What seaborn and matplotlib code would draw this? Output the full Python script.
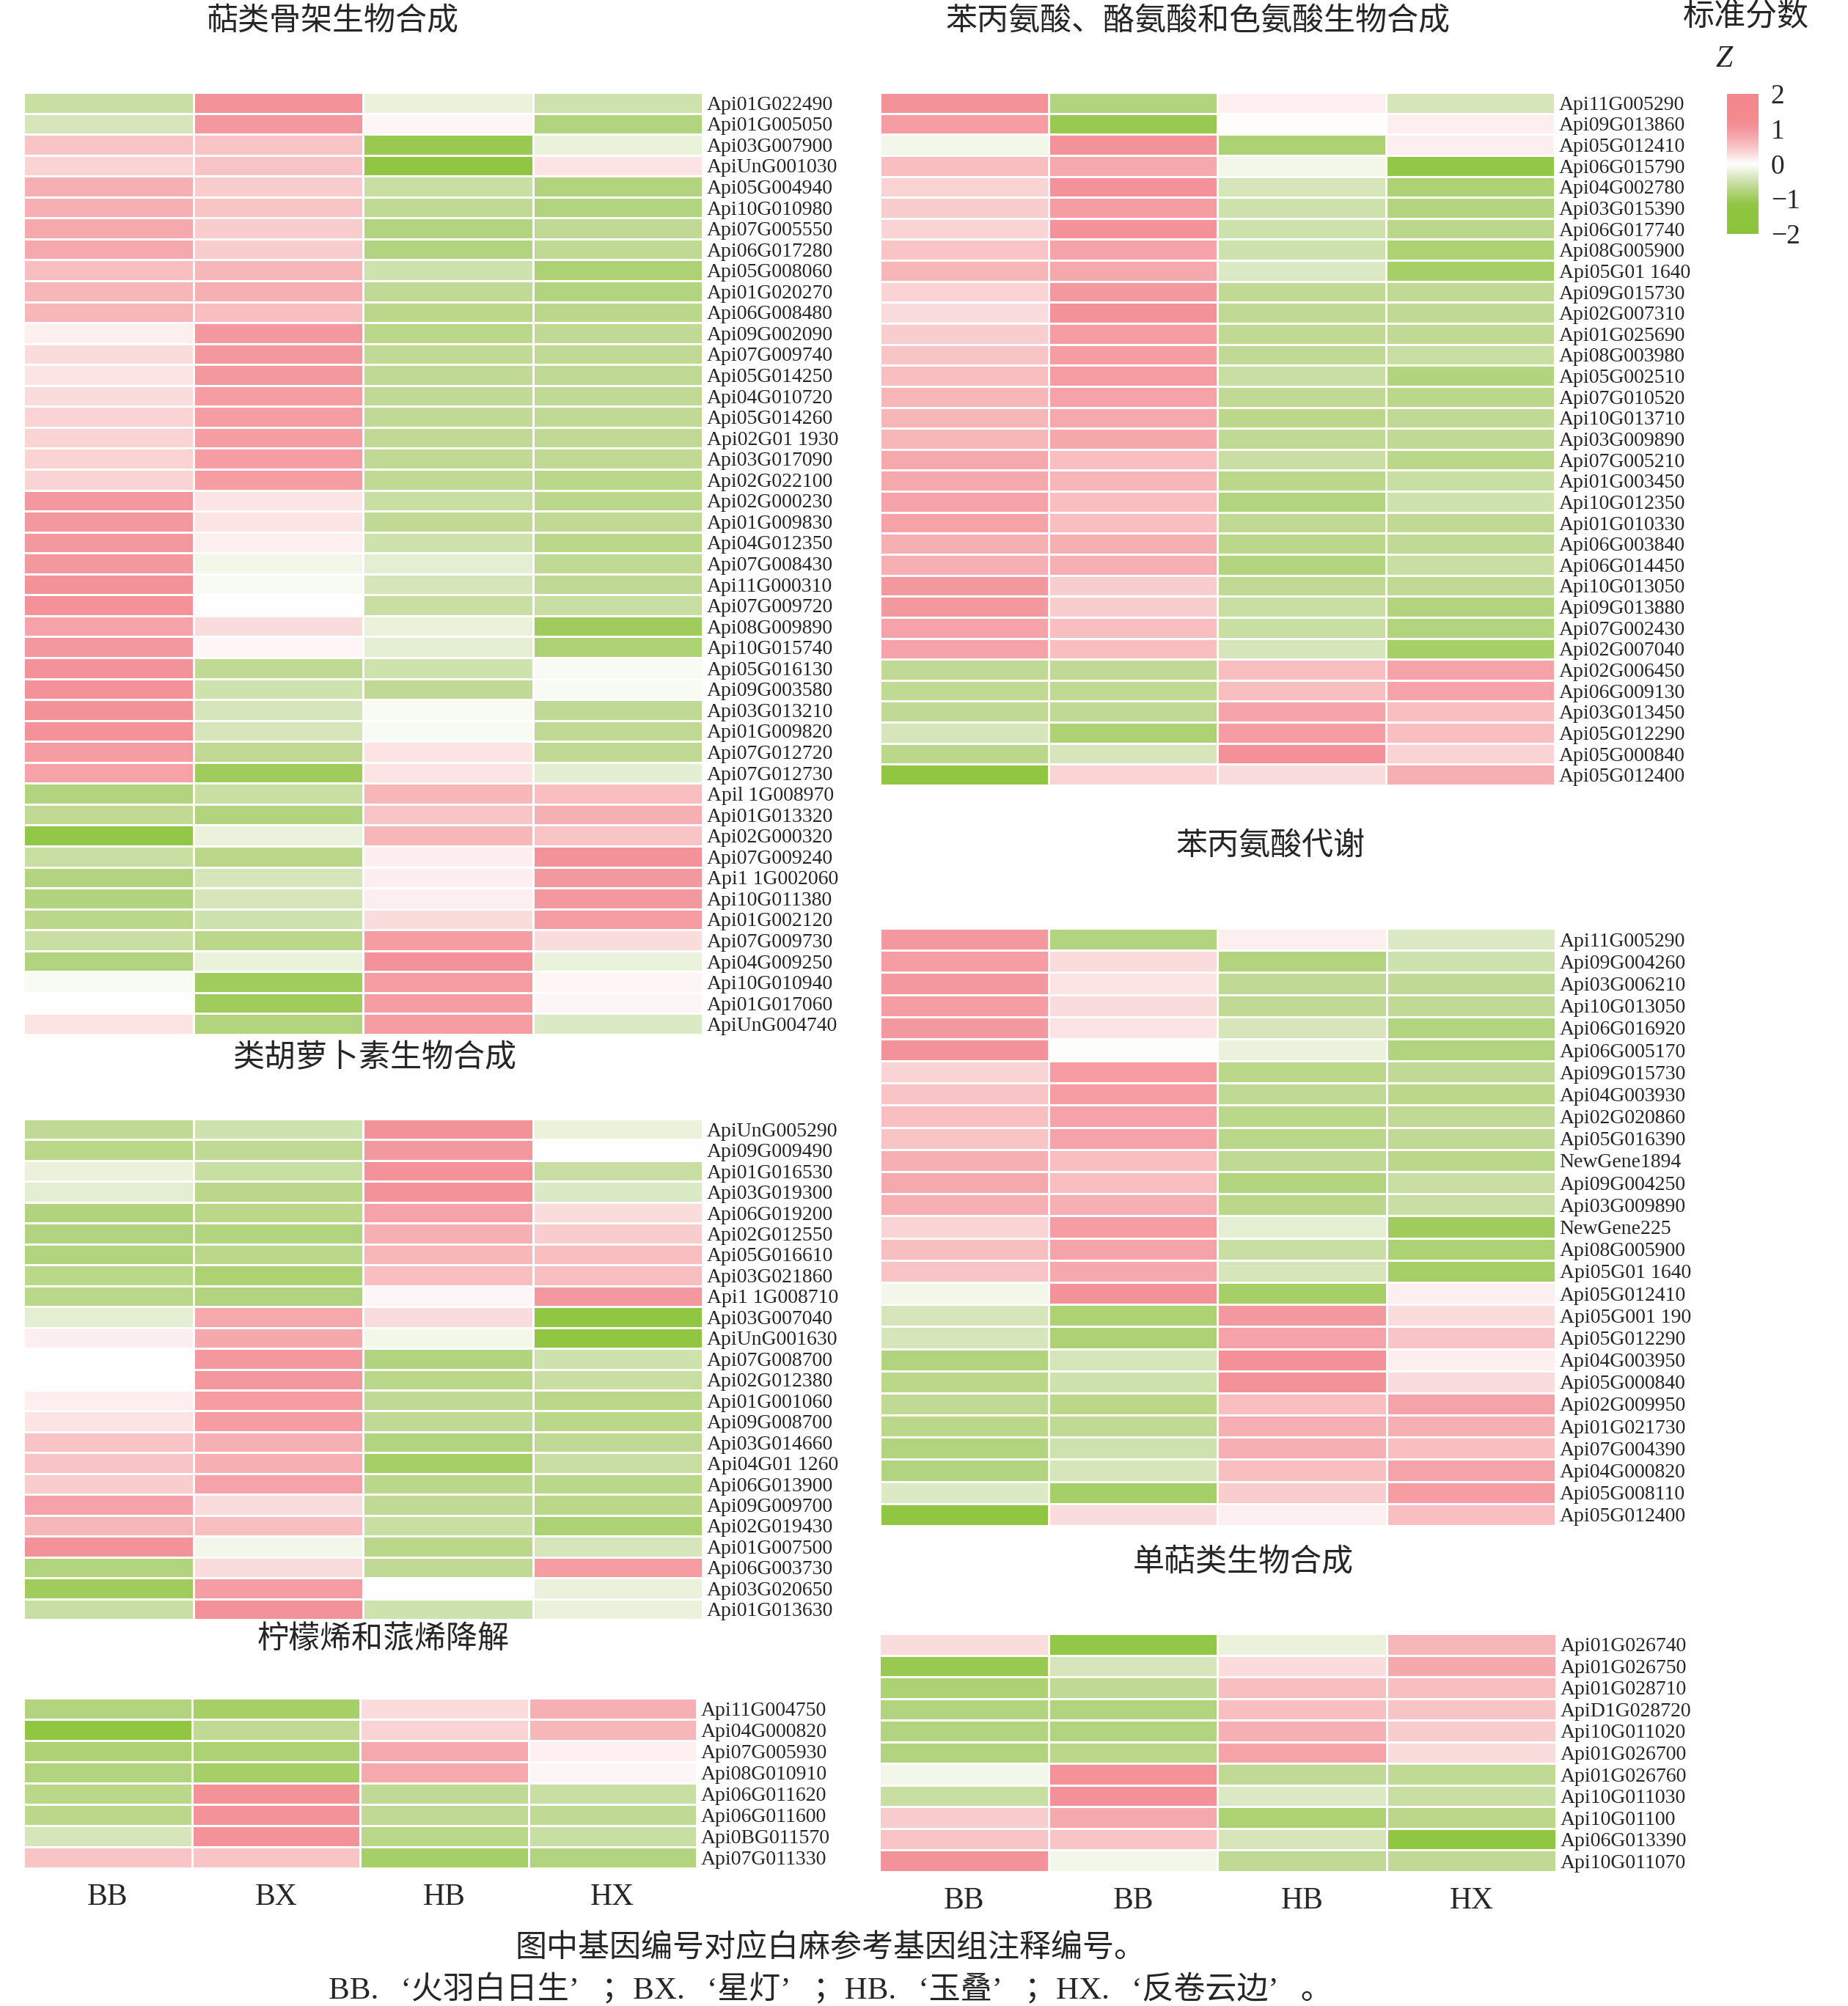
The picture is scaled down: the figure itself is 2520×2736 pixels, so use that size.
import numpy as np
import pandas as pd
import matplotlib
matplotlib.use('Agg')
import matplotlib.pyplot as plt
import seaborn as sns
from matplotlib.colors import LinearSegmentedColormap

# 样本名称（右侧图原图中为 BB, BB, HB, HX）
samples_left = ['BB', 'BX', 'HB', 'HX']
samples_right = ['BB', 'BB', 'HB', 'HX']

# 1. 萜类骨架生物合成
terp_genes = ['Api01G022490', 'Api01G005050', 'Api03G007900', 'ApiUnG001030', 'Api05G004940',
              'Api10G010980', 'Api07G005550', 'Api06G017280', 'Api05G008060', 'Api01G020270',
              'Api06G008480', 'Api09G002090', 'Api07G009740', 'Api05G014250', 'Api04G010720',
              'Api05G014260', 'Api02G01 1930', 'Api03G017090', 'Api02G022100', 'Api02G000230',
              'Api01G009830', 'Api04G012350', 'Api07G008430', 'Api11G000310', 'Api07G009720',
              'Api08G009890', 'Api10G015740', 'Api05G016130', 'Api09G003580', 'Api03G013210',
              'Api01G009820', 'Api07G012720', 'Api07G012730', 'Apil 1G008970', 'Api01G013320',
              'Api02G000320', 'Api07G009240', 'Api1 1G002060', 'Api10G011380', 'Api01G002120',
              'Api07G009730', 'Api04G009250', 'Api10G010940', 'Api01G017060', 'ApiUnG004740']
terp_z = [[-0.56, 1.05, -0.21, -0.49], [-0.42, 0.98, 0.07, -0.77], [0.49, 0.49, -1.05, -0.21],
          [0.35, 0.49, -1.19, 0.21], [0.7, 0.42, -0.56, -0.77], [0.7, 0.49, -0.63, -0.77],
          [0.77, 0.42, -0.77, -0.63], [0.77, 0.42, -0.77, -0.63], [0.56, 0.63, -0.49, -0.84],
          [0.63, 0.7, -0.63, -0.77], [0.63, 0.56, -0.7, -0.7], [0.14, 0.98, -0.7, -0.63],
          [0.28, 0.98, -0.63, -0.63], [0.21, 0.98, -0.63, -0.63], [0.28, 0.91, -0.63, -0.63],
          [0.35, 0.91, -0.63, -0.63], [0.35, 0.91, -0.63, -0.63], [0.35, 0.91, -0.63, -0.63],
          [0.35, 0.91, -0.63, -0.7], [0.98, 0.21, -0.56, -0.7], [0.98, 0.21, -0.63, -0.63],
          [0.98, 0.14, -0.49, -0.7], [0.98, -0.14, -0.28, -0.63], [1.05, -0.07, -0.42, -0.63],
          [1.05, 0.0, -0.56, -0.56], [0.84, 0.28, -0.21, -0.98], [0.98, 0.07, -0.28, -0.84],
          [1.05, -0.63, -0.49, -0.07], [1.05, -0.49, -0.63, -0.07], [1.05, -0.42, -0.07, -0.63],
          [1.05, -0.42, -0.07, -0.63], [0.91, -0.63, 0.21, -0.63], [0.84, -0.98, 0.21, -0.28],
          [-0.77, -0.56, 0.63, 0.56], [-0.63, -0.77, 0.49, 0.7], [-1.12, -0.21, 0.63, 0.49],
          [-0.56, -0.7, 0.14, 1.05], [-0.77, -0.42, 0.14, 0.98], [-0.77, -0.42, 0.14, 0.98],
          [-0.7, -0.49, 0.28, 0.91], [-0.56, -0.7, 0.91, 0.28], [-0.77, -0.21, 1.05, -0.21],
          [-0.07, -0.98, 0.91, 0.07], [0.0, -0.98, 0.91, 0.07], [0.21, -0.77, 0.91, -0.35]]

# 2. 苯丙氨酸、酪氨酸和色氨酸生物合成
aro_genes = ['Api11G005290', 'Api09G013860', 'Api05G012410', 'Api06G015790', 'Api04G002780',
             'Api03G015390', 'Api06G017740', 'Api08G005900', 'Api05G01 1640', 'Api09G015730',
             'Api02G007310', 'Api01G025690', 'Api08G003980', 'Api05G002510', 'Api07G010520',
             'Api10G013710', 'Api03G009890', 'Api07G005210', 'Api01G003450', 'Api10G012350',
             'Api01G010330', 'Api06G003840', 'Api06G014450', 'Api10G013050', 'Api09G013880',
             'Api07G002430', 'Api02G007040', 'Api02G006450', 'Api06G009130', 'Api03G013450',
             'Api05G012290', 'Api05G000840', 'Api05G012400']
aro_z = [[1.05, -0.77, 0.14, -0.42], [0.91, -1.05, 0.03, 0.14], [-0.14, 1.05, -0.84, 0.14],
         [0.56, 0.77, -0.14, -1.12], [0.35, 1.05, -0.42, -0.84], [0.42, 0.91, -0.49, -0.77],
         [0.35, 1.05, -0.49, -0.7], [0.49, 0.84, -0.49, -0.84], [0.63, 0.77, -0.35, -0.91],
         [0.35, 0.98, -0.63, -0.63], [0.28, 1.05, -0.63, -0.63], [0.42, 0.91, -0.63, -0.63],
         [0.49, 0.91, -0.63, -0.56], [0.56, 0.91, -0.56, -0.77], [0.63, 0.84, -0.63, -0.7],
         [0.63, 0.77, -0.7, -0.63], [0.63, 0.77, -0.63, -0.63], [0.77, 0.56, -0.56, -0.7],
         [0.77, 0.63, -0.7, -0.56], [0.84, 0.56, -0.77, -0.49], [0.84, 0.56, -0.63, -0.63],
         [0.7, 0.7, -0.7, -0.63], [0.7, 0.7, -0.77, -0.56], [0.98, 0.42, -0.63, -0.63],
         [0.98, 0.42, -0.56, -0.77], [0.84, 0.56, -0.56, -0.77], [0.84, 0.56, -0.42, -0.91],
         [-0.63, -0.63, 0.56, 0.84], [-0.63, -0.63, 0.56, 0.84], [-0.63, -0.63, 0.84, 0.56],
         [-0.42, -0.84, 0.91, 0.56], [-0.7, -0.42, 1.12, 0.35], [-1.19, 0.35, 0.28, 0.7]]

# 3. 类胡萝卜素生物合成
caro_genes = ['ApiUnG005290', 'Api09G009490', 'Api01G016530', 'Api03G019300', 'Api06G019200',
              'Api02G012550', 'Api05G016610', 'Api03G021860', 'Api1 1G008710', 'Api03G007040',
              'ApiUnG001630', 'Api07G008700', 'Api02G012380', 'Api01G001060', 'Api09G008700',
              'Api03G014660', 'Api04G01 1260', 'Api06G013900', 'Api09G009700', 'Api02G019430',
              'Api01G007500', 'Api06G003730', 'Api03G020650', 'Api01G013630']
caro_z = [[-0.63, -0.49, 1.05, -0.21], [-0.7, -0.63, 0.98, 0.0], [-0.21, -0.56, 1.05, -0.56],
          [-0.28, -0.7, 1.05, -0.35], [-0.77, -0.7, 0.84, 0.28], [-0.77, -0.77, 0.7, 0.42],
          [-0.77, -0.7, 0.63, 0.56], [-0.7, -0.84, 0.56, 0.56], [-0.7, -0.77, 0.07, 0.98],
          [-0.28, 0.77, 0.28, -1.19], [0.14, 0.77, -0.14, -1.19], [0.0, 0.98, -0.77, -0.49],
          [0.0, 0.98, -0.7, -0.56], [0.14, 0.91, -0.63, -0.7], [0.21, 0.91, -0.63, -0.7],
          [0.49, 0.7, -0.77, -0.63], [0.49, 0.7, -0.91, -0.56], [0.42, 0.84, -0.7, -0.7],
          [0.84, 0.28, -0.63, -0.7], [0.63, 0.56, -0.56, -0.84], [1.05, -0.14, -0.7, -0.42],
          [-0.77, 0.28, -0.63, 0.91], [-0.98, 0.91, 0.0, -0.21], [-0.56, 1.05, -0.49, -0.21]]

# 4. 苯丙氨酸代谢
phe_genes = ['Api11G005290', 'Api09G004260', 'Api03G006210', 'Api10G013050', 'Api06G016920',
             'Api06G005170', 'Api09G015730', 'Api04G003930', 'Api02G020860', 'Api05G016390',
             'NewGene1894', 'Api09G004250', 'Api03G009890', 'NewGene225', 'Api08G005900',
             'Api05G01 1640', 'Api05G012410', 'Api05G001 190', 'Api05G012290', 'Api04G003950',
             'Api05G000840', 'Api02G009950', 'Api01G021730', 'Api07G004390', 'Api04G000820',
             'Api05G008110', 'Api05G012400']
phe_z = [[0.98, -0.77, 0.14, -0.35], [0.91, 0.28, -0.77, -0.49], [0.98, 0.21, -0.63, -0.63],
         [0.91, 0.28, -0.63, -0.63], [0.98, 0.21, -0.42, -0.77], [1.05, -0.03, -0.21, -0.77],
         [0.35, 0.91, -0.7, -0.63], [0.49, 0.91, -0.63, -0.7], [0.56, 0.84, -0.7, -0.63],
         [0.49, 0.84, -0.7, -0.63], [0.7, 0.56, -0.63, -0.7], [0.77, 0.56, -0.77, -0.56],
         [0.7, 0.7, -0.7, -0.56], [0.35, 0.91, -0.28, -0.98], [0.56, 0.84, -0.56, -0.84],
         [0.49, 0.77, -0.42, -0.91], [-0.14, 1.05, -0.91, 0.14], [-0.42, -0.84, 0.98, 0.28],
         [-0.42, -0.84, 0.84, 0.49], [-0.77, -0.42, 1.12, 0.14], [-0.7, -0.49, 1.05, 0.28],
         [-0.63, -0.7, 0.56, 0.84], [-0.7, -0.63, 0.7, 0.7], [-0.77, -0.49, 0.7, 0.56],
         [-0.77, -0.42, 0.56, 0.84], [-0.35, -0.91, 0.42, 0.91], [-1.19, 0.28, 0.14, 0.56]]

# 5. 柠檬烯和蒎烯降解
limo_genes = ['Api11G004750', 'Api04G000820', 'Api07G005930', 'Api08G010910',
              'Api06G011620', 'Api06G011600', 'Api0BG011570', 'Api07G011330']
limo_z = [[-0.77, -0.91, 0.28, 0.7], [-1.19, -0.63, 0.35, 0.63], [-0.84, -0.84, 0.77, 0.14],
          [-0.77, -0.91, 0.77, 0.07], [-0.7, 1.05, -0.63, -0.56], [-0.7, 1.05, -0.63, -0.63],
          [-0.42, 1.05, -0.7, -0.56], [0.49, 0.49, -0.91, -0.77]]

# 6. 单萜类生物合成
mono_genes = ['Api01G026740', 'Api01G026750', 'Api01G028710', 'ApiD1G028720', 'Api10G011020',
              'Api01G026700', 'Api01G026760', 'Api10G011030', 'Api10G01100', 'Api06G013390',
              'Api10G011070']
mono_z = [[0.28, -1.12, -0.21, 0.63], [-1.05, -0.42, 0.28, 0.77], [-0.84, -0.63, 0.56, 0.56],
          [-0.77, -0.77, 0.56, 0.49], [-0.77, -0.77, 0.7, 0.42], [-0.77, -0.7, 0.84, 0.28],
          [-0.14, 1.05, -0.63, -0.63], [-0.56, 1.12, -0.35, -0.56], [0.42, 0.77, -0.84, -0.7],
          [0.49, 0.49, -0.42, -1.19], [1.05, -0.14, -0.63, -0.63]]

caption1 = '图中基因编号对应白麻参考基因组注释编号。'
# 引号按全角宽度排版，用 en space + thin space 补足间距
caption2 = ('BB.\u2002\u2009‘火羽白日生’\u2002\u2009；BX.\u2002\u2009‘星灯’\u2002\u2009；'
            'HB.\u2002\u2009‘玉叠’\u2002\u2009；HX.\u2002\u2009‘反卷云边’\u2002\u2009。')

# 主题与字体（set_theme 之后再设置字体列表）
sns.set_theme(style='white')
plt.rcParams['font.family'] = ['Liberation Serif', 'Noto Sans CJK SC']
plt.rcParams['axes.unicode_minus'] = True

# 绿-白-红 色带，约在 ±1.2 处饱和
vmin, vmax = -2, 2
nodes = [(-2.0, '#8BC43A'), (-1.3, '#8EC53F'), (-1.12, '#93C747'), (-0.7, '#BAD78A'),
         (-0.35, '#DCE9C5'), (0.0, '#FFFFFF'), (0.35, '#FAD3D4'), (0.7, '#F6AFB2'),
         (1.05, '#F4929A'), (1.3, '#F38A8E'), (2.0, '#F2888D')]
cmap = LinearSegmentedColormap.from_list(
    'green_red', [((v - vmin) / (vmax - vmin), c) for v, c in nodes])

W, H = 2520, 2736
fig = plt.figure(figsize=(W / 100, H / 100), dpi=100)


def rect(x0, y0, x1, y1):
    # 像素坐标 -> 图形比例坐标
    return [x0 / W, 1 - y1 / H, (x1 - x0) / W, (y1 - y0) / H]


panels = [
    (terp_genes, terp_z, samples_left, '萜类骨架生物合成', (32, 126, 958, 1411), (453, 30), False),
    (aro_genes, aro_z, samples_right, '苯丙氨酸、酪氨酸和色氨酸生物合成', (1200, 126, 2120, 1071), (1634, 30), False),
    (caro_genes, caro_z, samples_left, '类胡萝卜素生物合成', (32, 1526, 958, 2209), (511, 1444), False),
    (phe_genes, phe_z, samples_right, '苯丙氨酸代谢', (1200, 1266, 2121, 2081), (1733, 1155), False),
    (limo_genes, limo_z, samples_left, '柠檬烯和蒎烯降解', (32, 2316, 950, 2548), (523, 2237), True),
    (mono_genes, mono_z, samples_right, '单萜类生物合成', (1199, 2228, 2122, 2553), (1695, 2132), True),
]

mappable = None
for genes, z, cols, title, box, tpos, show_x in panels:
    ax = fig.add_axes(rect(*box))
    df = pd.DataFrame(z, index=genes)
    sns.heatmap(df, ax=ax, cmap=cmap, vmin=vmin, vmax=vmax, linewidths=2, linecolor='white',
                cbar=False, xticklabels=cols, yticklabels=genes)
    ax.yaxis.tick_right()
    ax.set_yticklabels(genes, rotation=0, fontsize=20)
    ax.tick_params(axis='y', length=0, pad=4)
    if show_x:
        ax.set_xticklabels(cols, rotation=0, fontsize=30)
        ax.tick_params(axis='x', length=0, pad=15)
    else:
        ax.set_xticks([])
    ax.set_xlabel('')
    ax.set_ylabel('')
    fig.text(tpos[0] / W, 1 - tpos[1] / H, title, fontsize=31, ha='center', va='center')
    mappable = ax.collections[0]

# 图例：标准分数 Z
fig.text(2381 / W, 1 - 24 / H, '标准分数', fontsize=31, ha='center', va='center')
fig.text(2351 / W, 1 - 81 / H, 'Z', fontsize=30, style='italic', ha='center', va='center')
cax = fig.add_axes(rect(2355, 128, 2398, 319))
cb = fig.colorbar(mappable, cax=cax)
cb.outline.set_visible(False)
cax.set_yticks([-2, -1, 1, 2])
cax.set_yticklabels(['\u22122', '\u22121', '1', '2'])
cax.set_yticks([0], minor=True)
cax.set_yticklabels(['0'], minor=True)
cax.tick_params(axis='y', which='major', direction='in', color='white', length=7, width=2.5,
                left=True, right=True, labelleft=False, labelright=True, labelsize=27, pad=12)
cax.tick_params(axis='y', which='minor', length=0, left=False, right=False,
                labelleft=False, labelright=True, labelsize=27, pad=12)

# 图注
fig.text(1132 / W, 1 - 2658 / H, caption1, fontsize=31, ha='center', va='center')
fig.text(1132 / W, 1 - 2714 / H, caption2, fontsize=31, ha='center', va='center')

fig.savefig('out.png', dpi=100, facecolor='white')
